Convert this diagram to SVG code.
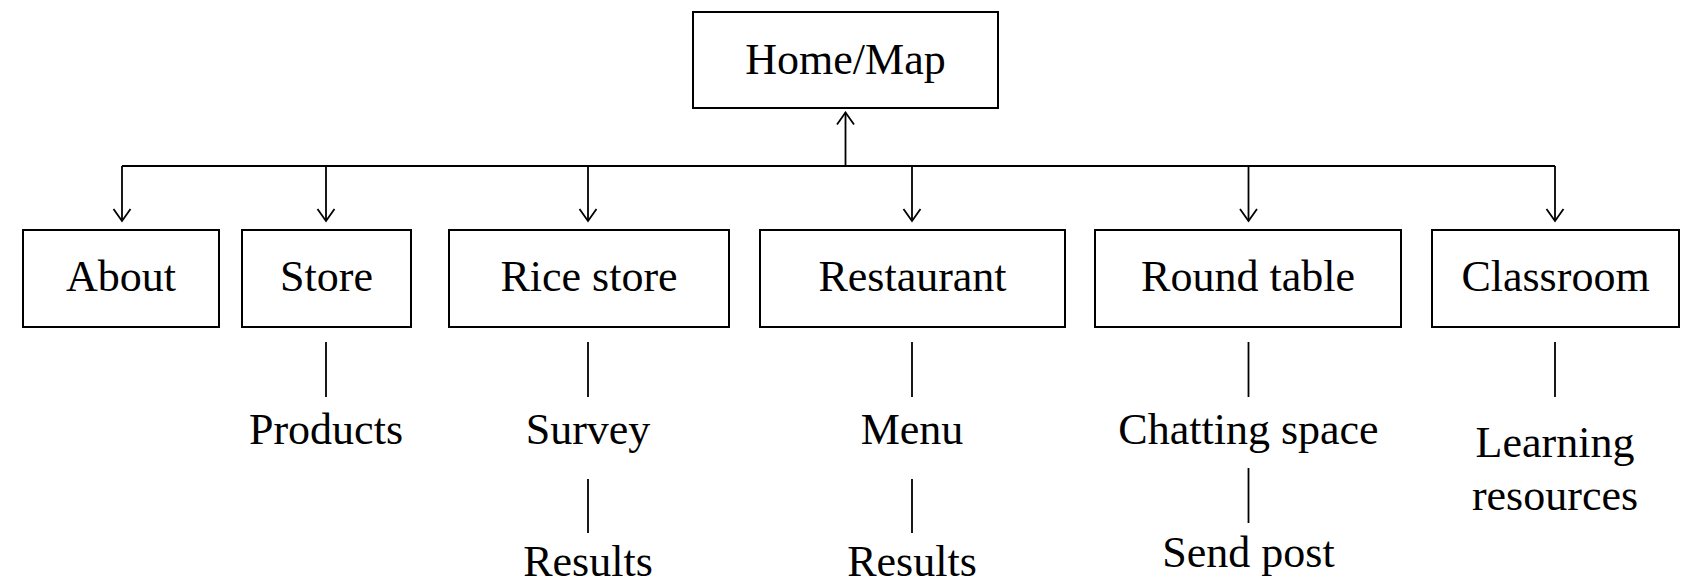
<svg xmlns="http://www.w3.org/2000/svg" width="1695" height="586" viewBox="0 0 1695 586">
  <style>
    .box { fill: #ffffff; stroke: #000000; stroke-width: 2; }
    .lbl { font-family: "Liberation Serif", "Times New Roman", serif; font-size: 44px; fill: #000000; text-anchor: middle; }
    .wire { fill: none; stroke: #000000; stroke-width: 1.8; }
  </style>
  <defs>
    <!-- open chevron arrowhead, tip at the path end -->
    <marker id="chev" viewBox="-14 -10 16 20" markerWidth="16" markerHeight="20" refX="0" refY="0" orient="auto" markerUnits="userSpaceOnUse">
      <path d="M-12,-8.5 L0,0 L-12,8.5" fill="none" stroke="#000000" stroke-width="1.8"/>
    </marker>
  </defs>
  <rect width="1695" height="586" fill="#ffffff"/>

  <!-- connectors -->
  <g id="connectors">
    <!-- bus up to the home page -->
    <path class="wire" d="M845.5,166 V112.5" marker-end="url(#chev)"/>
    <!-- horizontal bus -->
    <path class="wire" d="M122,166 H1555"/>
    <!-- drops to each section -->
    <path class="wire" d="M122,166 V221" marker-end="url(#chev)"/>
    <path class="wire" d="M326,166 V221" marker-end="url(#chev)"/>
    <path class="wire" d="M588,166 V221" marker-end="url(#chev)"/>
    <path class="wire" d="M912,166 V221" marker-end="url(#chev)"/>
    <path class="wire" d="M1248.5,166 V221" marker-end="url(#chev)"/>
    <path class="wire" d="M1555,166 V221" marker-end="url(#chev)"/>
    <!-- sub-page ties -->
    <path class="wire" d="M326,342 V397"/>
    <path class="wire" d="M588,342 V397"/>
    <path class="wire" d="M588,479 V533"/>
    <path class="wire" d="M912,342 V397"/>
    <path class="wire" d="M912,479 V533"/>
    <path class="wire" d="M1248.5,342 V397"/>
    <path class="wire" d="M1248.5,468 V523"/>
    <path class="wire" d="M1555,342 V397"/>
  </g>

  <!-- top level -->
  <g id="home">
    <rect class="box" x="693" y="12" width="305" height="96"/>
    <text class="lbl" x="845.5" y="74">Home/Map</text>
  </g>

  <!-- sections -->
  <g id="about">
    <rect class="box" x="23" y="230" width="196" height="97"/>
    <text class="lbl" x="121" y="291">About</text>
  </g>
  <g id="store">
    <rect class="box" x="242" y="230" width="169" height="97"/>
    <text class="lbl" x="326.5" y="291">Store</text>
  </g>
  <g id="rice-store">
    <rect class="box" x="449" y="230" width="280" height="97"/>
    <text class="lbl" x="589" y="291">Rice store</text>
  </g>
  <g id="restaurant">
    <rect class="box" x="760" y="230" width="305" height="97"/>
    <text class="lbl" x="912.5" y="291">Restaurant</text>
  </g>
  <g id="round-table">
    <rect class="box" x="1095" y="230" width="306" height="97"/>
    <text class="lbl" x="1248" y="291">Round table</text>
  </g>
  <g id="classroom">
    <rect class="box" x="1432" y="230" width="247" height="97"/>
    <text class="lbl" x="1555.5" y="291">Classroom</text>
  </g>

  <!-- sub-pages -->
  <g id="products"><text class="lbl" x="326" y="444">Products</text></g>
  <g id="survey"><text class="lbl" x="588" y="444">Survey</text></g>
  <g id="survey-results"><text class="lbl" x="588" y="576">Results</text></g>
  <g id="menu"><text class="lbl" x="912" y="444">Menu</text></g>
  <g id="menu-results"><text class="lbl" x="912" y="576">Results</text></g>
  <g id="chatting-space"><text class="lbl" x="1248.5" y="444">Chatting space</text></g>
  <g id="send-post"><text class="lbl" x="1248.5" y="567">Send post</text></g>
  <g id="learning-resources">
    <text class="lbl" x="1555" y="457">Learning</text>
    <text class="lbl" x="1555" y="510">resources</text>
  </g>
</svg>
